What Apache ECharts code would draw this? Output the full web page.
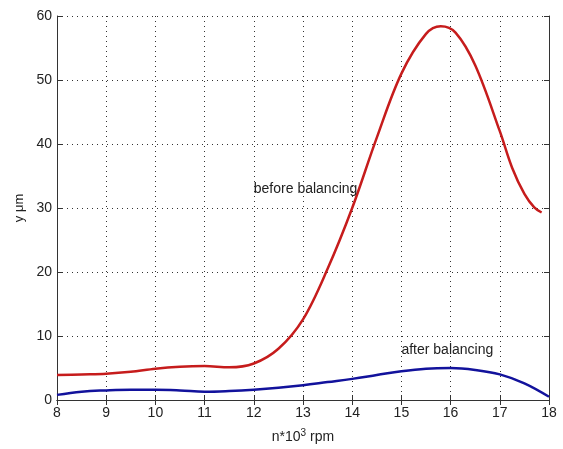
<!DOCTYPE html>
<html>
<head>
<meta charset="utf-8">
<script src="https://cdn.jsdelivr.net/npm/echarts@6/dist/echarts.min.js"></script>
<style>
  html, body { margin: 0; padding: 0; background: #fff; }
  #chart { width: 563px; height: 449px; }
</style>
</head>
<body>
<div id="chart"></div>
<script>
// speed in 10^3 rpm
const rpmBefore = [8, 8.5, 9, 9.5, 10, 10.5, 11, 11.5, 12, 12.5, 13, 13.5, 14, 14.5, 15, 15.5, 15.8, 16.1, 16.5, 17, 17.25, 17.5, 17.7, 17.85];
const yBefore = [3.9, 4.0, 4.1, 4.4, 4.9, 5.2, 5.3, 5.1, 5.7, 8.0, 12.6, 20.5, 30, 41, 51, 57.2, 58.4, 57.4, 52.3, 42, 36.3, 32.2, 30.1, 29.3];
const rpmAfter = [8, 8.5, 9, 9.5, 10, 10.5, 11, 11.5, 12, 12.5, 13, 13.5, 14, 14.5, 15, 15.5, 16, 16.5, 17, 17.5, 18];
const yAfter = [0.8, 1.3, 1.5, 1.6, 1.6, 1.5, 1.3, 1.4, 1.6, 1.9, 2.3, 2.8, 3.3, 3.9, 4.5, 4.9, 5.0, 4.7, 4.0, 2.6, 0.5];
const labelBefore = 'before balancing';
const labelAfter = 'after balancing';

const zip = (xs, ys) => xs.map((x, i) => [x, ys[i]]);

const chart = echarts.init(document.getElementById('chart'));
const tickFont = { fontFamily: 'Liberation Sans, Arial, sans-serif', fontSize: 14, color: '#222' };
const gridLine = { show: true, lineStyle: { color: '#333', type: [1, 4], width: 1 } };
const frame = { show: true, lineStyle: { color: '#333', width: 1 } };

chart.setOption({
  animation: false,
  grid: { left: 57, right: 14, top: 16, bottom: 46 },
  xAxis: [
    {
      type: 'value', min: 8, max: 18, interval: 1,
      axisLine: frame,
      axisTick: { show: true, inside: true, length: 5, lineStyle: { color: '#333' } },
      axisLabel: Object.assign({ margin: 6 }, tickFont),
      splitLine: gridLine,
      name: 'n*10{sup|3} rpm',
      nameLocation: 'middle',
      nameGap: 28,
      nameTextStyle: {
        fontFamily: 'Liberation Sans, Arial, sans-serif', fontSize: 14, color: '#222',
        rich: { sup: { fontSize: 10, verticalAlign: 'top', padding: [0, 0, 8, 0] } }
      }
    },
    {
      type: 'value', min: 8, max: 18, interval: 1, position: 'top',
      axisLine: frame,
      axisTick: { show: true, inside: true, length: 5, lineStyle: { color: '#333' } },
      axisLabel: { show: false },
      splitLine: { show: false }
    }
  ],
  yAxis: [
    {
      type: 'value', min: 0, max: 60, interval: 10,
      axisLine: frame,
      axisTick: { show: true, inside: true, length: 5, lineStyle: { color: '#333' } },
      axisLabel: Object.assign({ margin: 5 }, tickFont),
      splitLine: gridLine,
      name: 'y μm',
      nameLocation: 'middle',
      nameGap: 28,
      nameTextStyle: { fontFamily: 'Liberation Sans, Arial, sans-serif', fontSize: 13, color: '#222' }
    },
    {
      type: 'value', min: 0, max: 60, interval: 10, position: 'right',
      axisLine: frame,
      axisTick: { show: true, inside: true, length: 5, lineStyle: { color: '#333' } },
      axisLabel: { show: false },
      splitLine: { show: false }
    }
  ],
  series: [
    {
      name: labelBefore,
      type: 'line',
      smooth: 0.35,
      showSymbol: false,
      data: zip(rpmBefore, yBefore),
      lineStyle: { color: '#c61c1c', width: 2.5 },
      markPoint: {
        symbol: 'circle', symbolSize: 0,
        data: [{ coord: [12, 33] }],
        label: {
          show: true, position: 'right', distance: 0,
          formatter: labelBefore,
          fontFamily: 'Liberation Sans, Arial, sans-serif', fontSize: 14, color: '#222'
        }
      }
    },
    {
      name: labelAfter,
      type: 'line',
      smooth: 0.4,
      showSymbol: false,
      data: zip(rpmAfter, yAfter),
      lineStyle: { color: '#12129c', width: 2.5 },
      markPoint: {
        symbol: 'circle', symbolSize: 0,
        data: [{ coord: [15, 7.8] }],
        label: {
          show: true, position: 'right', distance: 0,
          formatter: labelAfter,
          fontFamily: 'Liberation Sans, Arial, sans-serif', fontSize: 14, color: '#222'
        }
      }
    }
  ]
});
</script>
</body>
</html>
